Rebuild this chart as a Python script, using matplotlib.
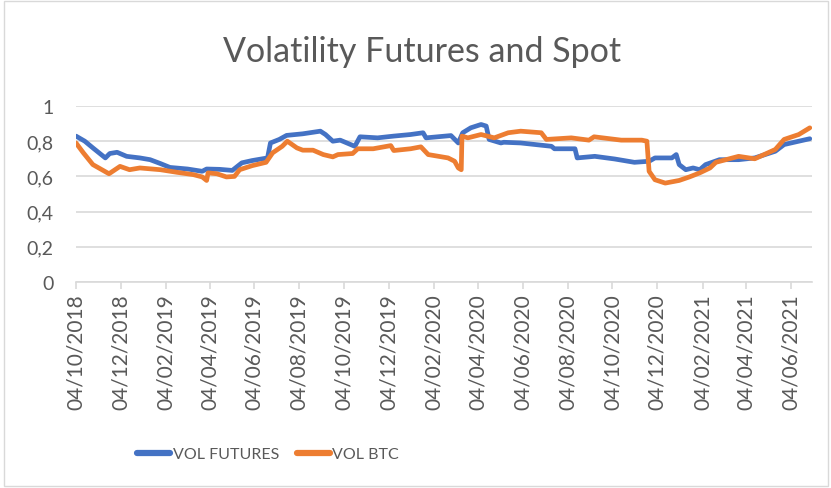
import matplotlib
matplotlib.use("Agg")
import matplotlib.pyplot as plt
import matplotlib.dates as mdates
import pandas as pd
from matplotlib.patches import Rectangle

# series
fut_dates = ["2018-10-04", "2018-10-16", "2018-10-27", "2018-11-13", "2018-11-19",
             "2018-11-29", "2018-12-12", "2018-12-30", "2019-01-13", "2019-01-27",
             "2019-02-09", "2019-03-05", "2019-03-25", "2019-03-31", "2019-04-18",
             "2019-05-05", "2019-05-18", "2019-06-01", "2019-06-22", "2019-06-26",
             "2019-07-08", "2019-07-18", "2019-08-09", "2019-09-02", "2019-09-09",
             "2019-09-19", "2019-09-29", "2019-10-19", "2019-10-26", "2019-11-19",
             "2019-12-11", "2020-01-03", "2020-01-20", "2020-01-24", "2020-02-27",
             "2020-03-08", "2020-03-14", "2020-03-25", "2020-04-08", "2020-04-15",
             "2020-04-19", "2020-05-05", "2020-05-09", "2020-06-01", "2020-07-13",
             "2020-07-17", "2020-08-14", "2020-08-17", "2020-09-10", "2020-10-07",
             "2020-11-03", "2020-11-23", "2020-12-01", "2020-12-24", "2020-12-30",
             "2021-01-03", "2021-01-12", "2021-01-22", "2021-01-31", "2021-02-08",
             "2021-02-27", "2021-03-25", "2021-04-16", "2021-05-14", "2021-05-26",
             "2021-06-15", "2021-06-30"]
fut_vol = [0.829, 0.800, 0.762, 0.705, 0.730,
           0.737, 0.714, 0.705, 0.695, 0.673,
           0.651, 0.642, 0.629, 0.642, 0.640,
           0.634, 0.677, 0.690, 0.705, 0.790,
           0.810, 0.833, 0.842, 0.857, 0.838,
           0.800, 0.806, 0.771, 0.825, 0.819,
           0.829, 0.838, 0.848, 0.819, 0.832,
           0.790, 0.848, 0.876, 0.895, 0.886,
           0.810, 0.790, 0.794, 0.790, 0.771,
           0.757, 0.757, 0.705, 0.714, 0.699,
           0.680, 0.686, 0.705, 0.705, 0.724,
           0.667, 0.638, 0.648, 0.638, 0.667,
           0.695, 0.695, 0.705, 0.743, 0.781,
           0.800, 0.814]

btc_dates = ["2018-10-04", "2018-10-14", "2018-10-27", "2018-11-18", "2018-12-03",
             "2018-12-16", "2018-12-30", "2019-01-27", "2019-02-19", "2019-03-13",
             "2019-03-25", "2019-03-31", "2019-04-02", "2019-04-14", "2019-04-27",
             "2019-05-08", "2019-05-15", "2019-06-01", "2019-06-20", "2019-06-29",
             "2019-07-12", "2019-07-19", "2019-08-01", "2019-08-09", "2019-08-23",
             "2019-09-06", "2019-09-19", "2019-09-26", "2019-10-16", "2019-10-23",
             "2019-11-13", "2019-12-07", "2019-12-11", "2020-01-03", "2020-01-17",
             "2020-01-27", "2020-02-23", "2020-03-03", "2020-03-08", "2020-03-12",
             "2020-03-13", "2020-03-21", "2020-04-08", "2020-04-26", "2020-05-15",
             "2020-06-01", "2020-06-29", "2020-07-06", "2020-08-09", "2020-09-02",
             "2020-09-09", "2020-10-16", "2020-11-13", "2020-11-20", "2020-11-23",
             "2020-12-01", "2020-12-15", "2021-01-03", "2021-01-17", "2021-01-31",
             "2021-02-14", "2021-02-22", "2021-03-25", "2021-04-16", "2021-05-14",
             "2021-05-26", "2021-06-15", "2021-06-30"]
btc_vol = [0.790, 0.734, 0.667, 0.615, 0.657,
           0.638, 0.648, 0.638, 0.623, 0.610,
           0.597, 0.577, 0.620, 0.615, 0.597,
           0.600, 0.638, 0.661, 0.680, 0.734,
           0.771, 0.800, 0.762, 0.749, 0.749,
           0.724, 0.711, 0.724, 0.730, 0.757,
           0.757, 0.775, 0.747, 0.757, 0.768,
           0.724, 0.705, 0.686, 0.648, 0.638,
           0.829, 0.819, 0.838, 0.819, 0.848,
           0.857, 0.848, 0.810, 0.819, 0.806,
           0.825, 0.806, 0.806, 0.800, 0.629,
           0.581, 0.562, 0.577, 0.597, 0.620,
           0.648, 0.680, 0.714, 0.700, 0.753,
           0.810, 0.838, 0.876]

tick_dates = pd.date_range("2018-10-04", "2021-06-04", freq=pd.DateOffset(months=2))
y_ticks = [0, 0.2, 0.4, 0.6, 0.8, 1]

BLUE = "#4472C4"
ORANGE = "#ED7D31"
TEXT = "#595959"
GRID = "#D9D9D9"

plt.rcParams["font.family"] = ["Lato", "DejaVu Sans"]

fig = plt.figure(figsize=(8.31, 4.89), dpi=100)
ax = fig.add_axes([76 / 831, 1 - 283 / 489, (812 - 76) / 831, (283 - 107) / 489])

ax.plot(pd.to_datetime(fut_dates), fut_vol, color=BLUE, lw=3.4, label="VOL FUTURES",
        solid_joinstyle="round", solid_capstyle="round", zorder=3)
ax.plot(pd.to_datetime(btc_dates), btc_vol, color=ORANGE, lw=3.4, label="VOL BTC",
        solid_joinstyle="round", solid_capstyle="round", zorder=4)

ax.set_ylim(0, 1)
ax.set_xlim(pd.Timestamp("2018-10-04"), pd.Timestamp("2021-07-03"))
ax.set_yticks(y_ticks)
ax.set_yticklabels([("%g" % v).replace(".", ",") for v in y_ticks])
ax.set_xticks(tick_dates)
ax.xaxis.set_major_formatter(mdates.DateFormatter("%d/%m/%Y"))
plt.setp(ax.get_xticklabels(), rotation=90)

ax.grid(axis="y", color=GRID, lw=1.2)
ax.set_axisbelow(True)
for s in ["top", "right", "left"]:
    ax.spines[s].set_visible(False)
ax.spines["bottom"].set_color(GRID)
ax.spines["bottom"].set_linewidth(1.2)
ax.tick_params(axis="y", length=0, pad=16, labelsize=14, labelcolor=TEXT)
ax.tick_params(axis="x", length=5, width=1.2, color=GRID, pad=3, labelsize=15,
               labelcolor=TEXT)

fig.text(0.508, 1 - 62 / 489, "Volatility Futures and Spot", ha="center",
         va="baseline", fontsize=24.5, color=TEXT)

leg = fig.legend(loc="center", bbox_to_anchor=(268 / 831, 1 - 455 / 489), ncol=2,
                 frameon=False, handlelength=2.1, columnspacing=1.1,
                 handletextpad=0.15, labelcolor=TEXT, fontsize=11.5)
for h in leg.get_lines():
    h.set_linewidth(4.5)

fig.patches.append(Rectangle((4 / 831, 2 / 489), 824 / 831, 485 / 489,
                             transform=fig.transFigure, fill=False, ec=GRID, lw=1))

fig.savefig("out.png", dpi=100)
